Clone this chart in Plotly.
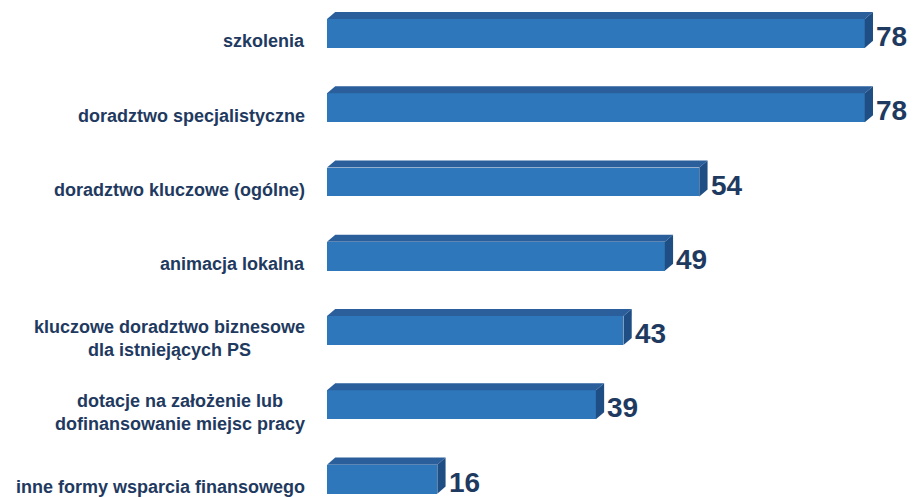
import plotly.graph_objects as go

# categories top -> bottom
labels = [
    "szkolenia",
    "doradztwo specjalistyczne",
    "doradztwo kluczowe (ogólne)",
    "animacja lokalna",
    "kluczowe doradztwo biznesowe<br>dla istniejących PS",
    "dotacje na założenie lub<br>dofinansowanie miejsc pracy",
    "inne formy wsparcia finansowego",
]
values = [78, 78, 54, 49, 43, 39, 16]

pos = list(range(len(values)))

front_col = "#2e77bb"
top_col = "#2a5f9c"
side_col = "#1f4e84"
text_col = "#1f3a60"
font_fam = "Liberation Sans, Arial, sans-serif"

# depth of the fake 3D effect (data units)
dx = 1.2
dy = 0.095
half = 0.195

fig = go.Figure()

fig.add_trace(go.Bar(
    x=values, y=pos, orientation="h", width=2 * half,
    marker=dict(color=front_col, line=dict(width=0)),
    hoverinfo="skip", showlegend=False,
))

for v, p in zip(values, pos):
    top = p - half
    bot = p + half
    # top face
    fig.add_trace(go.Scatter(
        x=[0, v, v + dx, dx, 0],
        y=[top, top, top - dy, top - dy, top],
        fill="toself", fillcolor=top_col, mode="lines",
        line=dict(width=0, color=top_col),
        hoverinfo="skip", showlegend=False,
    ))
    # side face
    fig.add_trace(go.Scatter(
        x=[v, v + dx, v + dx, v, v],
        y=[top, top - dy, bot - dy, bot, top],
        fill="toself", fillcolor=side_col, mode="lines",
        line=dict(width=0, color=side_col),
        hoverinfo="skip", showlegend=False,
    ))
    # value label
    fig.add_annotation(
        x=v + dx, y=p, xref="x", yref="y", text=str(v),
        showarrow=False, xanchor="left", xshift=1, yshift=-3,
        font=dict(family=font_fam, size=28, color=text_col, weight=700),
    )

for lab, p in zip(labels, pos):
    fig.add_annotation(
        x=0, y=p, xref="x", yref="y", text=lab,
        showarrow=False, xanchor="right", align="center",
        xshift=-20, yshift=-8,
        font=dict(family=font_fam, size=18, color=text_col, weight=700),
    )

fig.update_layout(
    width=913, height=497,
    margin=dict(l=327, r=0, t=0, b=3),
    paper_bgcolor="white", plot_bgcolor="white",
    bargap=0,
    xaxis=dict(range=[0, 85], visible=False, fixedrange=True),
    yaxis=dict(range=[6.2, -0.45], visible=False, fixedrange=True),
    showlegend=False,
)

fig.write_html("out.html", config={"displayModeBar": False},
               post_script="document.body.style.margin='0';")
